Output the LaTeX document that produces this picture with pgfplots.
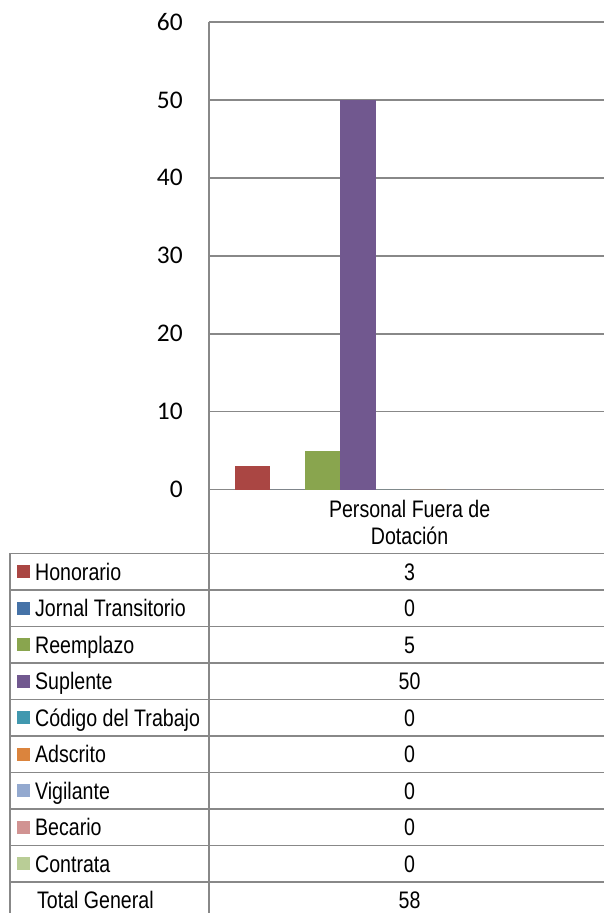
\documentclass[border=0pt]{standalone}
\usepackage{pgfplots}
\pgfplotsset{compat=1.18}
\usepackage{fontspec}
\setmainfont{Liberation Sans}
\newfontfamily\tablefont[FakeStretch=0.82]{Liberation Sans}
\newfontfamily\tickfont{Carlito}
\definecolor{cHon}{HTML}{AA4643}
\definecolor{cJor}{HTML}{4572A7}
\definecolor{cRee}{HTML}{89A54E}
\definecolor{cSup}{HTML}{71588F}
\definecolor{cCod}{HTML}{4198AF}
\definecolor{cAds}{HTML}{DB843D}
\definecolor{cVig}{HTML}{93A9CF}
\definecolor{cBec}{HTML}{D19392}
\definecolor{cCon}{HTML}{B9CD96}
\definecolor{gridc}{HTML}{888888}
\newcommand{\tf}{\tablefont\fontsize{24}{28}\selectfont}
\begin{document}
\begin{tikzpicture}[x=1bp,y=1bp]
\path (0,0) rectangle (605,914);
\begin{axis}[
  at={(209bp,424bp)}, anchor=south west,
  scale only axis, width=396bp, height=468bp,
  xmin=-184.6, xmax=211.4, ymin=0, ymax=60,
  enlarge x limits=false, enlarge y limits=false,
  ybar=0pt, bar width=35.25bp,
  axis line style={draw=none},
  ytick={0,10,...,60},
  ymajorgrids, grid style={gridc, line width=1.8bp},
  major tick length=0pt,
  xtick={16.4}, xticklabels={Personal Fuera de\\Dotación},
  xticklabel style={align=center, font=\tf, inner sep=0pt, yshift=-10bp},
  yticklabel style={font=\tickfont\fontsize{25.5}{30}\selectfont, inner sep=0pt, xshift=-26bp},
  /pgf/number format/assume math mode=true,
  every axis plot/.append style={draw=none},
]
\addplot[fill=cHon] coordinates {(0,3)};
\addplot[fill=cJor] coordinates {(0,0)};
\addplot[fill=cRee] coordinates {(0,5)};
\addplot[fill=cSup] coordinates {(0,50)};
\addplot[fill=cCod] coordinates {(0,0)};
\addplot[fill=cAds] coordinates {(0,0)};
\addplot[fill=cVig] coordinates {(0,0)};
\addplot[fill=cBec] coordinates {(0,0)};
\addplot[fill=cCon] coordinates {(0,0)};
\end{axis}
% table grid
\draw[gridc, line width=1.8] (209,892) -- (209,0);
\draw[gridc, line width=1.8] (10,360) -- (10,0);
\foreach \k in {0,...,9}{
  \draw[gridc, line width=1.8] (10,{360-\k*36.55}) -- (605,{360-\k*36.55});
}
\foreach \n/\c/\v [count=\k from 0] in {Honorario/cHon/3, Jornal Transitorio/cJor/0, Reemplazo/cRee/5, Suplente/cSup/50, Código del Trabajo/cCod/0, Adscrito/cAds/0, Vigilante/cVig/0, Becario/cBec/0, Contrata/cCon/0}{
  \pgfmathsetmacro\yc{360-(\k+0.5)*36.55}
  \fill[\c] (17,\yc-6.5) rectangle (30,\yc+6.5);
  \node[anchor=base west, inner sep=0pt, font=\tf] at (35,\yc-8.5) {\n};
  \node[anchor=base, inner sep=0pt, font=\tf] at (410,\yc-8.5) {\v};
}
\pgfmathsetmacro\yc{360-9.5*36.55}
\node[anchor=base west, inner sep=0pt, font=\tf] at (37,\yc-8.5) {Total General};
\node[anchor=base, inner sep=0pt, font=\tf] at (410,\yc-8.5) {58};
\end{tikzpicture}
\end{document}
